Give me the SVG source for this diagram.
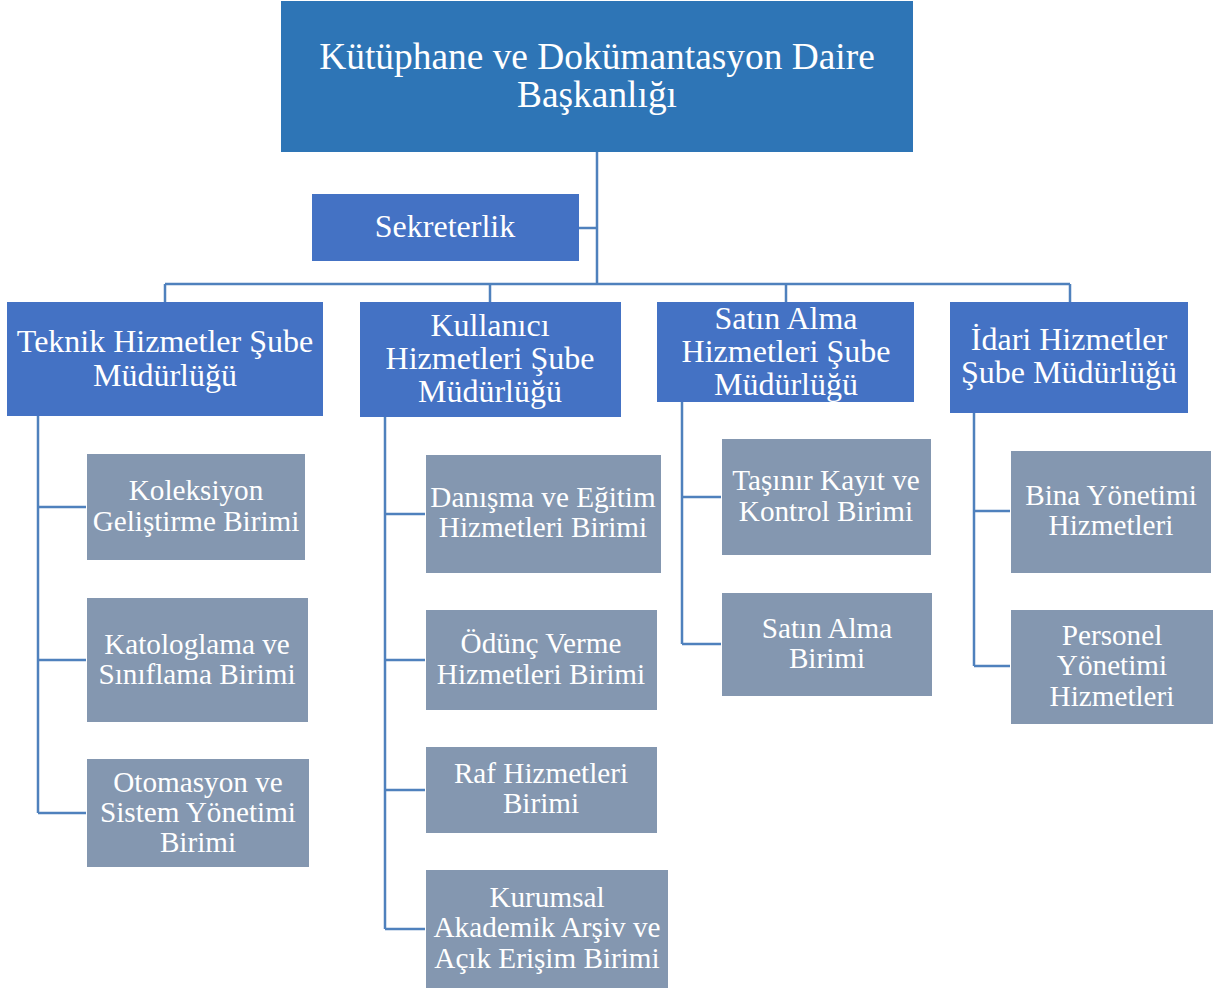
<svg xmlns="http://www.w3.org/2000/svg" width="1219" height="992" viewBox="0 0 1219 992">
<style>
.top{fill:#2E75B6}
.l2{fill:#4472C4}
.l3{fill:#8497B0}
text{font-family:"Liberation Serif","Times New Roman",serif;fill:#fff;text-anchor:middle}
.t1{font-size:37.4px}
.t2{font-size:32px}
.t3{font-size:29.2px}
.c{stroke:#4F81BD;stroke-width:2.5;fill:none}
</style>
<rect width="1219" height="992" fill="#fff"/>
<g id="connectors">
<path class="c" d="M597 152V284M579 228H597M165 284H1070M165 284V302M490 284V302M786 284V302M1070 284V302"/>
<path class="c" d="M38 416V813M38 507H86M38 660H86M38 813H86"/>
<path class="c" d="M385 417V929M385 514H425M385 660H425M385 790H425M385 929H425"/>
<path class="c" d="M682 402V644M682 497H721M682 644H721"/>
<path class="c" d="M974 413V666M974 511H1010M974 666H1010"/>
</g>
<g id="root"><rect class="top" x="281" y="1" width="632" height="151"/><text class="t1" x="597" y="69">Kütüphane ve Dokümantasyon Daire</text><text class="t1" x="597" y="107">Başkanlığı</text></g>
<g id="sekreterlik"><rect class="l2" x="312" y="194" width="267" height="67"/><text class="t2" x="445" y="237">Sekreterlik</text></g>
<g id="teknik"><rect class="l2" x="7" y="302" width="316" height="114"/><text class="t2" x="165" y="352">Teknik Hizmetler Şube</text><text class="t2" x="165" y="386">Müdürlüğü</text></g>
<g id="kullanici"><rect class="l2" x="360" y="302" width="261" height="115"/><text class="t2" x="490" y="336">Kullanıcı</text><text class="t2" x="490" y="369">Hizmetleri Şube</text><text class="t2" x="490" y="402">Müdürlüğü</text></g>
<g id="satinalma"><rect class="l2" x="657" y="302" width="257" height="100"/><text class="t2" x="786" y="329">Satın Alma</text><text class="t2" x="786" y="362">Hizmetleri Şube</text><text class="t2" x="786" y="395">Müdürlüğü</text></g>
<g id="idari"><rect class="l2" x="950" y="302" width="238" height="111"/><text class="t2" x="1069" y="350">İdari Hizmetler</text><text class="t2" x="1069" y="383">Şube Müdürlüğü</text></g>
<g id="koleksiyon"><rect class="l3" x="87" y="454" width="218" height="106"/><text class="t3" x="196" y="500">Koleksiyon</text><text class="t3" x="196" y="531">Geliştirme Birimi</text></g>
<g id="katologlama"><rect class="l3" x="87" y="598" width="221" height="124"/><text class="t3" x="197" y="654">Katologlama ve</text><text class="t3" x="197" y="684">Sınıflama Birimi</text></g>
<g id="otomasyon"><rect class="l3" x="87" y="759" width="222" height="108"/><text class="t3" x="198" y="792">Otomasyon ve</text><text class="t3" x="198" y="822">Sistem Yönetimi</text><text class="t3" x="198" y="852">Birimi</text></g>
<g id="danisma"><rect class="l3" x="426" y="455" width="235" height="118"/><text class="t3" x="543" y="507">Danışma ve Eğitim</text><text class="t3" x="543" y="537">Hizmetleri Birimi</text></g>
<g id="odunc"><rect class="l3" x="426" y="610" width="231" height="100"/><text class="t3" x="541" y="653">Ödünç Verme</text><text class="t3" x="541" y="684">Hizmetleri Birimi</text></g>
<g id="raf"><rect class="l3" x="426" y="747" width="231" height="86"/><text class="t3" x="541" y="783">Raf Hizmetleri</text><text class="t3" x="541" y="813">Birimi</text></g>
<g id="kurumsal"><rect class="l3" x="426" y="870" width="242" height="118"/><text class="t3" x="547" y="907">Kurumsal</text><text class="t3" x="547" y="937">Akademik Arşiv ve</text><text class="t3" x="547" y="968">Açık Erişim Birimi</text></g>
<g id="tasinir"><rect class="l3" x="722" y="439" width="209" height="116"/><text class="t3" x="826" y="490">Taşınır Kayıt ve</text><text class="t3" x="826" y="521">Kontrol Birimi</text></g>
<g id="satinalmabirimi"><rect class="l3" x="722" y="593" width="210" height="103"/><text class="t3" x="827" y="638">Satın Alma</text><text class="t3" x="827" y="668">Birimi</text></g>
<g id="bina"><rect class="l3" x="1011" y="451" width="200" height="122"/><text class="t3" x="1111" y="505">Bina Yönetimi</text><text class="t3" x="1111" y="535">Hizmetleri</text></g>
<g id="personel"><rect class="l3" x="1011" y="610" width="202" height="114"/><text class="t3" x="1112" y="645">Personel</text><text class="t3" x="1112" y="675">Yönetimi</text><text class="t3" x="1112" y="706">Hizmetleri</text></g>
</svg>
